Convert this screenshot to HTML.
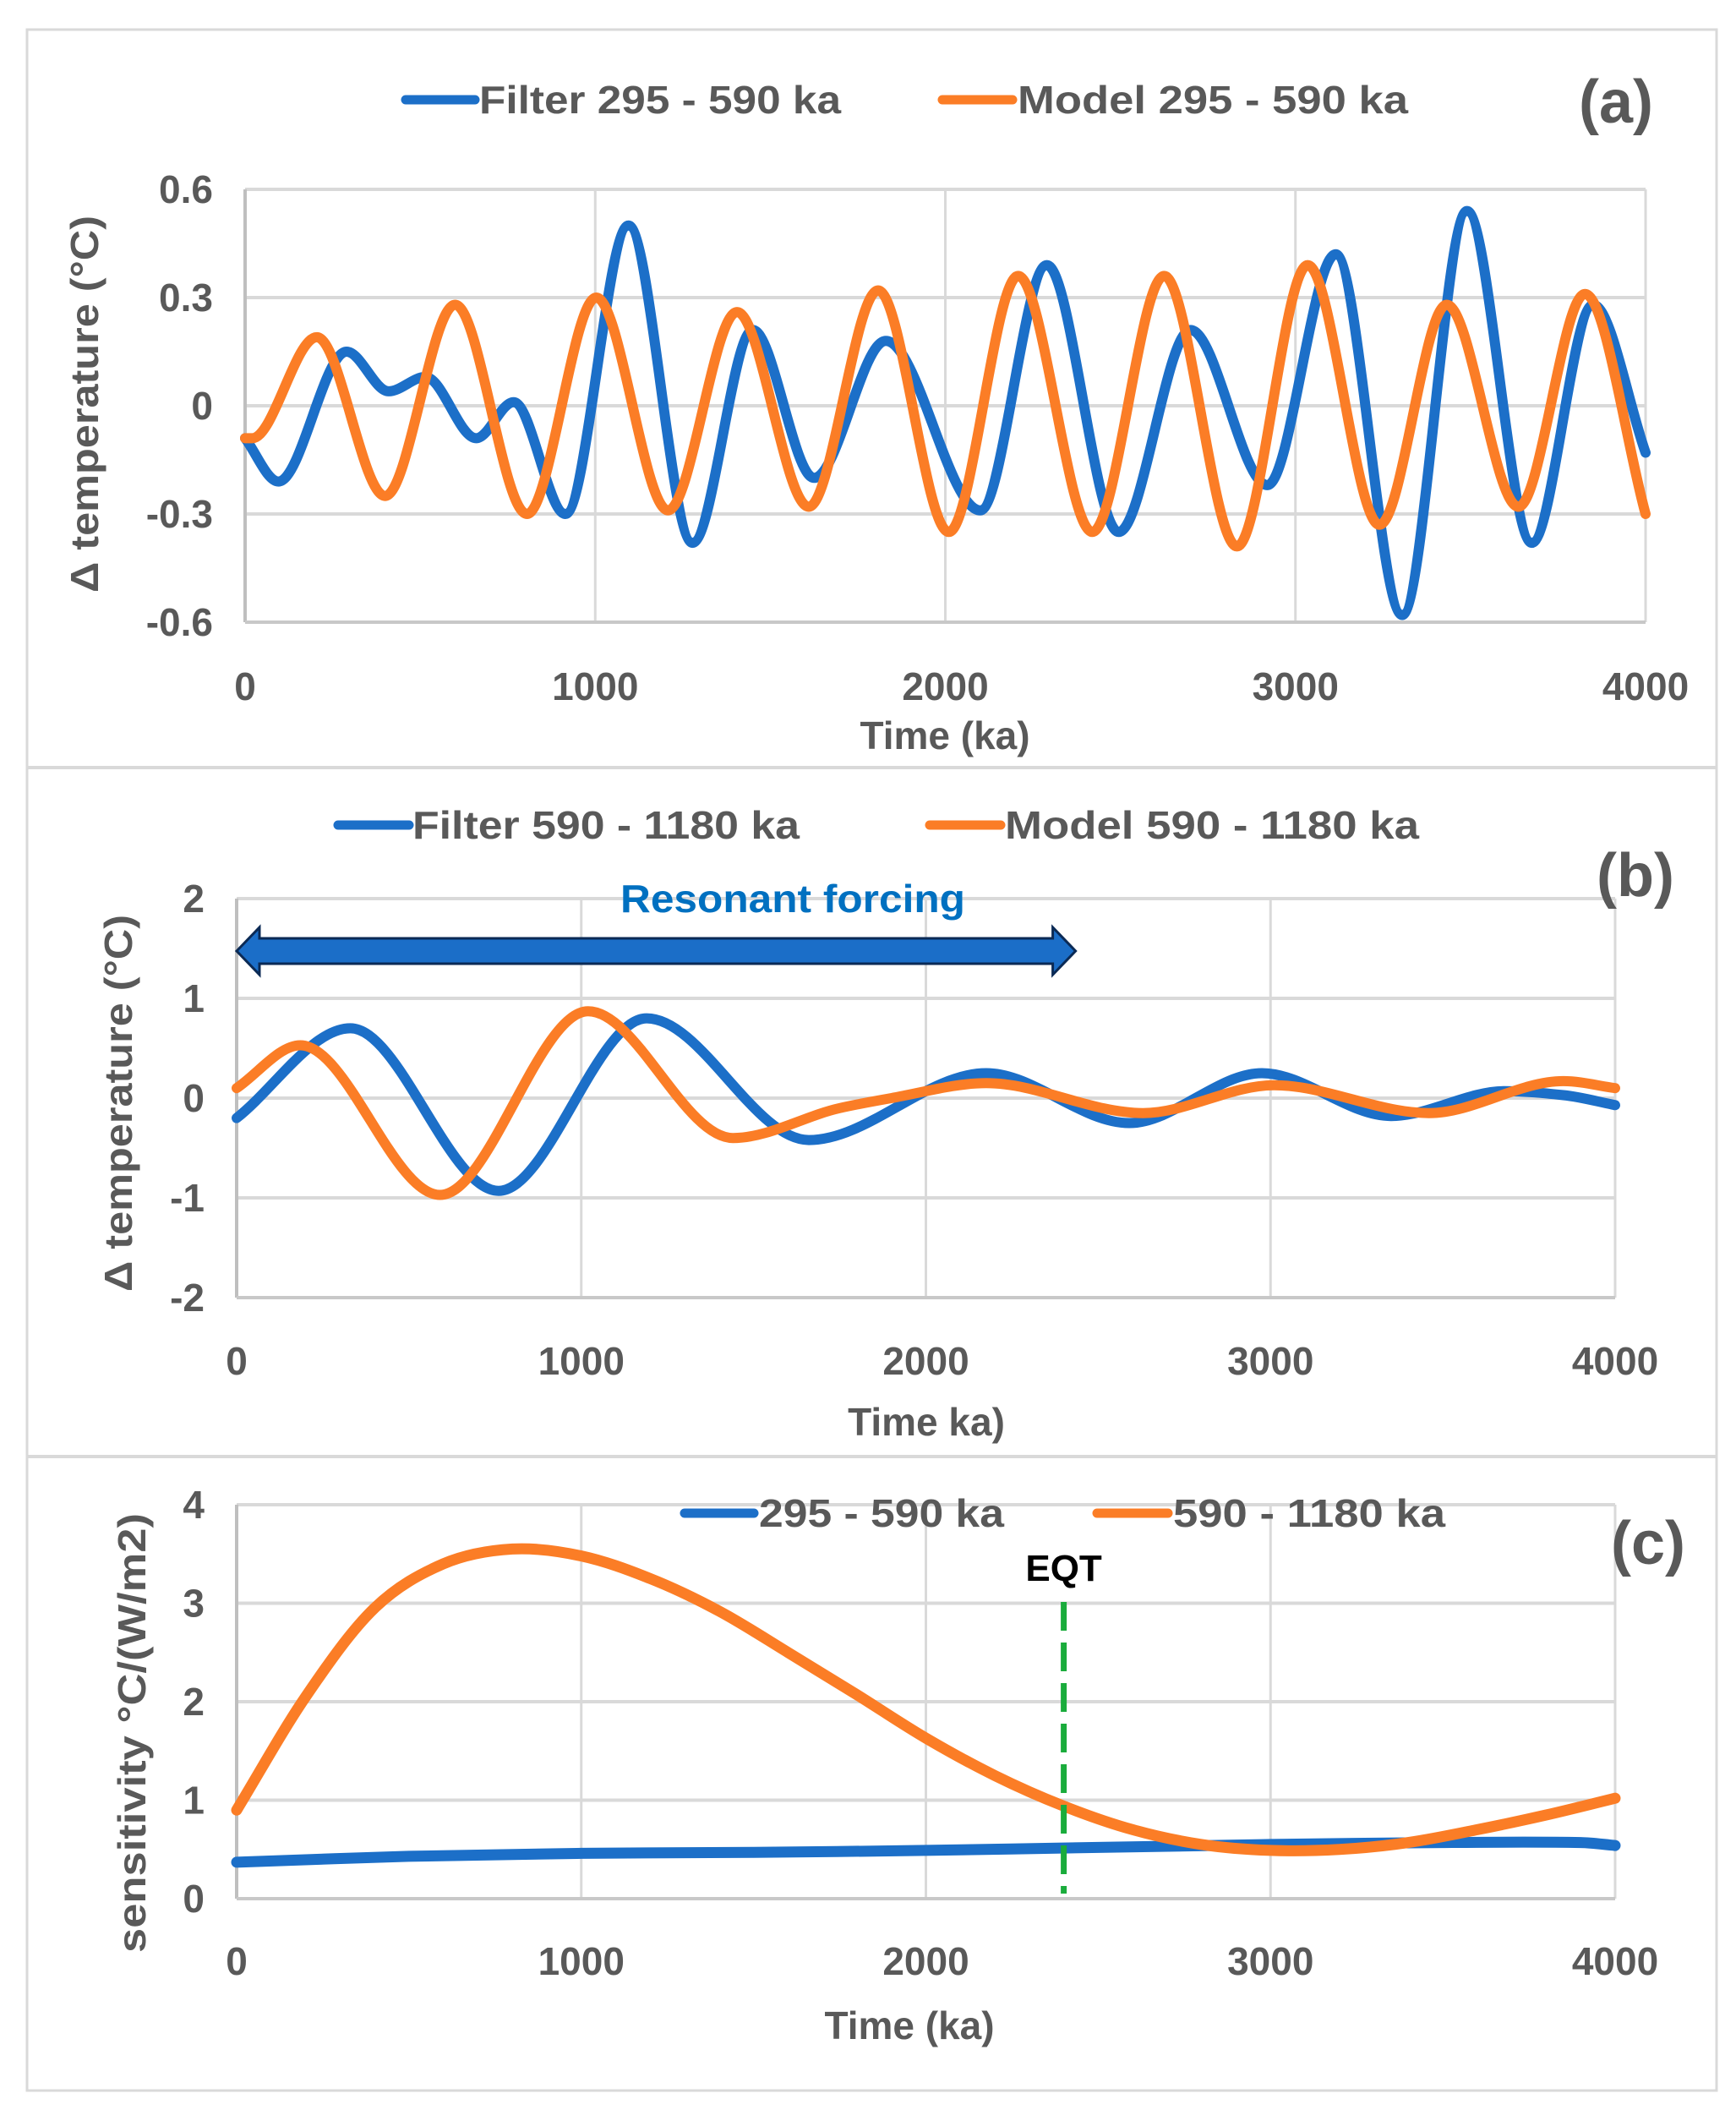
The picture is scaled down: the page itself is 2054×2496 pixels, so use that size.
<!DOCTYPE html>
<html><head><meta charset="utf-8">
<style>
html,body{margin:0;padding:0;background:#fff;}
svg{display:block;font-family:"Liberation Sans",sans-serif;}
.tick{font-size:46px;font-weight:bold;fill:#595959;}
.leg{font-size:46px;font-weight:bold;fill:#595959;}
.ttl{font-size:46px;font-weight:bold;fill:#595959;}
.tag{font-size:72px;font-weight:bold;fill:#595959;}
</style></head>
<body>
<svg id="fig" width="2054" height="2496" viewBox="0 0 2054 2496" xmlns="http://www.w3.org/2000/svg">
<rect x="0" y="0" width="2054" height="2496" fill="#fff"/>
<rect x="32" y="35" width="1999" height="2438" fill="none" stroke="#d9d9d9" stroke-width="3"/>
<line x1="32" y1="908" x2="2031" y2="908" stroke="#d9d9d9" stroke-width="4"/>
<line x1="32" y1="1723" x2="2031" y2="1723" stroke="#d9d9d9" stroke-width="4"/>
<g id="pa"></g>
<g id="pb"></g>
<g id="pc"></g>
</svg>
<script>
// ---- Panel (a) data (extrema points, ka / °C)
const aFilterX = [0,95,290,410,515,660,767,915,1095,1278,1450,1625,1830,2100,2290,2495,2700,2920,3115,3305,3490,3675,3850,4000];
const aFilterY = [-0.09,-0.21,0.15,0.04,0.08,-0.09,0.01,-0.3,0.5,-0.38,0.21,-0.2,0.18,-0.29,0.39,-0.35,0.21,-0.22,0.42,-0.58,0.54,-0.38,0.28,-0.13];
const aModelX = [0,20,205,400,600,805,1003,1208,1405,1610,1808,2010,2208,2420,2625,2833,3035,3240,3432,3637,3827,4000];
const aModelY = [-0.09,-0.09,0.19,-0.25,0.28,-0.3,0.3,-0.29,0.26,-0.28,0.32,-0.35,0.36,-0.35,0.36,-0.39,0.39,-0.33,0.28,-0.28,0.31,-0.3];
const aYTicks = [0.6,0.3,0,-0.3,-0.6];
const aYLabels = ["0.6","0.3","0","-0.3","-0.6"];
// ---- Panel (b)
const bFilterX = [0,330,760,1190,1660,2175,2590,2975,3350,3680,3850,4000];
const bFilterY = [-0.2,0.7,-0.93,0.8,-0.42,0.25,-0.25,0.25,-0.18,0.07,0.03,-0.07];
const bModelX = [0,185,590,1020,1440,1750,1900,2175,2630,3010,3460,3850,4000];
const bModelY = [0.1,0.53,-0.97,0.87,-0.4,-0.1,0.0,0.15,-0.15,0.13,-0.15,0.17,0.1];
const bYTicks = [2,1,0,-1,-2];
const bYLabels = ["2","1","0","-1","-2"];
// ---- Panel (c)
const cOrangeX = [0,200,400,600,800,1000,1200,1400,1600,1800,2000,2200,2400,2600,2800,3000,3200,3400,3600,3800,4000];
const cOrangeY = [0.9,2.05,2.95,3.4,3.55,3.48,3.25,2.92,2.5,2.07,1.63,1.25,0.94,0.7,0.55,0.49,0.5,0.57,0.7,0.85,1.02];
const cBlueX = [0,500,1000,1500,2000,2500,3000,3500,3900,4000];
const cBlueY = [0.37,0.43,0.46,0.47,0.49,0.52,0.55,0.57,0.57,0.54];
const cYTicks = [4,3,2,1,0];
const cYLabels = ["4","3","2","1","0"];
const xTicks = [0,1000,2000,3000,4000];
const xLabels = ["0","1000","2000","3000","4000"];
const eqtX = 2400;

const NS="http://www.w3.org/2000/svg";
const BLUE="#1c6fc8", ORANGE="#fb7d26";
function mk(parent,tag,attrs,text){
  const e=document.createElementNS(NS,tag);
  for(const k in attrs) e.setAttribute(k,attrs[k]);
  if(text!==undefined) e.textContent=text;
  parent.appendChild(e); return e;
}
function curvePath(xs,ys,sx,sy,smooth){
  const n=xs.length, px=xs.map(sx), py=ys.map(sy);
  const d=[],m=new Array(n).fill(0);
  for(let i=0;i<n-1;i++) d.push((py[i+1]-py[i])/(px[i+1]-px[i]));
  m[0]=d[0]; m[n-1]=d[n-2];
  for(let i=1;i<n-1;i++){
    if(smooth){ m[i]=(py[i+1]-py[i-1])/(px[i+1]-px[i-1]); continue; }
    if(d[i-1]*d[i]<=0) m[i]=0;
    else { const h0=px[i]-px[i-1],h1=px[i+1]-px[i];
      const w1=2*h1+h0,w2=h1+2*h0; m[i]=(w1+w2)/(w1/d[i-1]+w2/d[i]); }
  }
  let s="M"+px[0].toFixed(1)+","+py[0].toFixed(1);
  for(let i=0;i<n-1;i++){
    const h=(px[i+1]-px[i])/3;
    s+=" C"+(px[i]+h).toFixed(1)+","+(py[i]+m[i]*h).toFixed(1)+" "+(px[i+1]-h).toFixed(1)+","+(py[i+1]-m[i+1]*h).toFixed(1)+" "+px[i+1].toFixed(1)+","+py[i+1].toFixed(1);
  }
  return s;
}
function panel(g,o){
  const sx=v=>o.x0+(v-0)/4000*(o.x1-o.x0);
  const sy=v=>o.y0+(o.ymax-v)/(o.ymax-o.ymin)*(o.y1-o.y0);
  o.yTicks.forEach((t,i)=>{
    const gl=mk(g,'line',{x1:o.x0,x2:o.x1,y1:sy(t),y2:sy(t),stroke:'#d9d9d9','stroke-width':4});
    
    
    const tl=mk(g,'text',{x:o.x0-38,y:sy(t)+16,'text-anchor':'end',class:'tick'},o.yLabels[i]);
    
    
  });
  xTicks.forEach((t,i)=>{
    const gl=mk(g,'line',{x1:sx(t),x2:sx(t),y1:o.y0,y2:o.y1,stroke:'#d9d9d9','stroke-width':3});
    
    
    const tl=mk(g,'text',{x:sx(t),y:o.xTickY,'text-anchor':'middle',class:'tick'},xLabels[i]);
    
    
  });
  mk(g,'line',{x1:o.x0,x2:o.x0,y1:o.y0,y2:o.y1,stroke:'#bfbfbf','stroke-width':4});
  mk(g,'line',{x1:o.x0,x2:o.x1,y1:o.y1,y2:o.y1,stroke:'#c8c8c8','stroke-width':4});
  return {sx,sy};
}
function series(g,xs,ys,sc,color,name,w,smooth){
  const p=mk(g,'path',{d:curvePath(xs,ys,sc.sx,sc.sy,smooth),fill:'none',stroke:color,'stroke-width':w||12,'stroke-linejoin':'round','stroke-linecap':'round'});
  
  
}
function legend(g,x1,x2,y,color,tx,label,len,name){
  const l=mk(g,'line',{x1:x1,x2:x2,y1:y,y2:y,stroke:color,'stroke-width':11,'stroke-linecap':'round'});
  
  
  const t=mk(g,'text',{x:tx,y:y+16,class:'leg',textLength:len,lengthAdjust:'spacingAndGlyphs'},label);
  
  
}
function txt(g,attrs,s,name){
  const t=mk(g,'text',attrs,s);
  
  
  return t;
}

// Panel A
const ga=document.getElementById('pa');
const sa=panel(ga,{x0:290,x1:1947,y0:224,y1:736,ymin:-0.6,ymax:0.6,yTicks:aYTicks,yLabels:aYLabels,xTickY:828});
series(ga,aFilterX,aFilterY,sa,BLUE,'filter-295-590-line');
series(ga,aModelX,aModelY,sa,ORANGE,'model-295-590-line');
legend(ga,480,562,118,BLUE,567,'Filter 295 - 590 ka',428,'legend-filter-295-590');
legend(ga,1115,1198,118,ORANGE,1204,'Model 295 - 590 ka',462,'legend-model-295-590');
txt(ga,{x:1912,y:145,'text-anchor':'middle',class:'tag'},'(a)','panel-a-label');
txt(ga,{x:1118,y:886,'text-anchor':'middle',class:'ttl'},'Time (ka)','x-axis-title-a');
txt(ga,{x:0,y:0,'text-anchor':'middle',class:'ttl',transform:'translate(116,478) rotate(-90)',textLength:446,lengthAdjust:'spacingAndGlyphs'},'Δ temperature (°C)','y-axis-title-a');

// Panel B
const gb=document.getElementById('pb');
const sb=panel(gb,{x0:280,x1:1911,y0:1063,y1:1535,ymin:-2,ymax:2,yTicks:bYTicks,yLabels:bYLabels,xTickY:1626});
series(gb,bFilterX,bFilterY,sb,BLUE,'filter-590-1180-line');
series(gb,bModelX,bModelY,sb,ORANGE,'model-590-1180-line');
legend(gb,400,484,976,BLUE,488,'Filter 590 - 1180 ka',458,'legend-filter-590-1180');
legend(gb,1100,1184,976,ORANGE,1189,'Model 590 - 1180 ka',490,'legend-model-590-1180');
txt(gb,{x:1935,y:1060,'text-anchor':'middle',class:'tag'},'(b)','panel-b-label');
txt(gb,{x:1096,y:1698,'text-anchor':'middle',class:'ttl'},'Time ka)','x-axis-title-b');
txt(gb,{x:0,y:0,'text-anchor':'middle',class:'ttl',transform:'translate(156,1305) rotate(-90)',textLength:446,lengthAdjust:'spacingAndGlyphs'},'Δ temperature (°C)','y-axis-title-b');
txt(gb,{x:938,y:1079,'text-anchor':'middle',style:'font-size:46px;font-weight:bold;fill:#0070c0',textLength:408,lengthAdjust:'spacingAndGlyphs'},'Resonant forcing','resonant-forcing-label');
const ax0=sb.sx(0), ax1=sb.sx(2400)+14, ay=1125;
const arrow=mk(gb,'path',{d:`M${ax0},${ay} L${ax0+27},${ay-28} L${ax0+27},${ay-15} L${ax1-27},${ay-15} L${ax1-27},${ay-28} L${ax1},${ay} L${ax1-27},${ay+28} L${ax1-27},${ay+15} L${ax0+27},${ay+15} L${ax0+27},${ay+28} Z`,fill:'#1b6ec8',stroke:'#0b2a55','stroke-width':3});



// Panel C
const gc=document.getElementById('pc');
const sc=panel(gc,{x0:280,x1:1911,y0:1780,y1:2246,ymin:0,ymax:4,yTicks:cYTicks,yLabels:cYLabels,xTickY:2336});
series(gc,cBlueX,cBlueY,sc,BLUE,'sensitivity-295-590-line',13,true);
series(gc,cOrangeX,cOrangeY,sc,ORANGE,'sensitivity-590-1180-line',13,true);
const eq=mk(gc,'line',{x1:sc.sx(eqtX),x2:sc.sx(eqtX),y1:1895,y2:2240,stroke:'#1aac3c','stroke-width':7,'stroke-dasharray':'34,14'});


txt(gc,{x:sc.sx(eqtX),y:1870,'text-anchor':'middle',style:'font-size:44px;font-weight:bold;fill:#000'},'EQT','eqt-label');
legend(gc,810,892,1790,BLUE,898,'295 - 590 ka',290,'legend-295-590');
legend(gc,1298,1382,1790,ORANGE,1388,'590 - 1180 ka',322,'legend-590-1180');
txt(gc,{x:1950,y:1850,'text-anchor':'middle',class:'tag'},'(c)','panel-c-label');
txt(gc,{x:1076,y:2412,'text-anchor':'middle',class:'ttl'},'Time (ka)','x-axis-title-c');
txt(gc,{x:0,y:0,'text-anchor':'middle',class:'ttl',transform:'translate(172,2050) rotate(-90)',textLength:520,lengthAdjust:'spacingAndGlyphs'},'sensitivity °C/(W/m2)','y-axis-title-c');
</script>
</body></html>
